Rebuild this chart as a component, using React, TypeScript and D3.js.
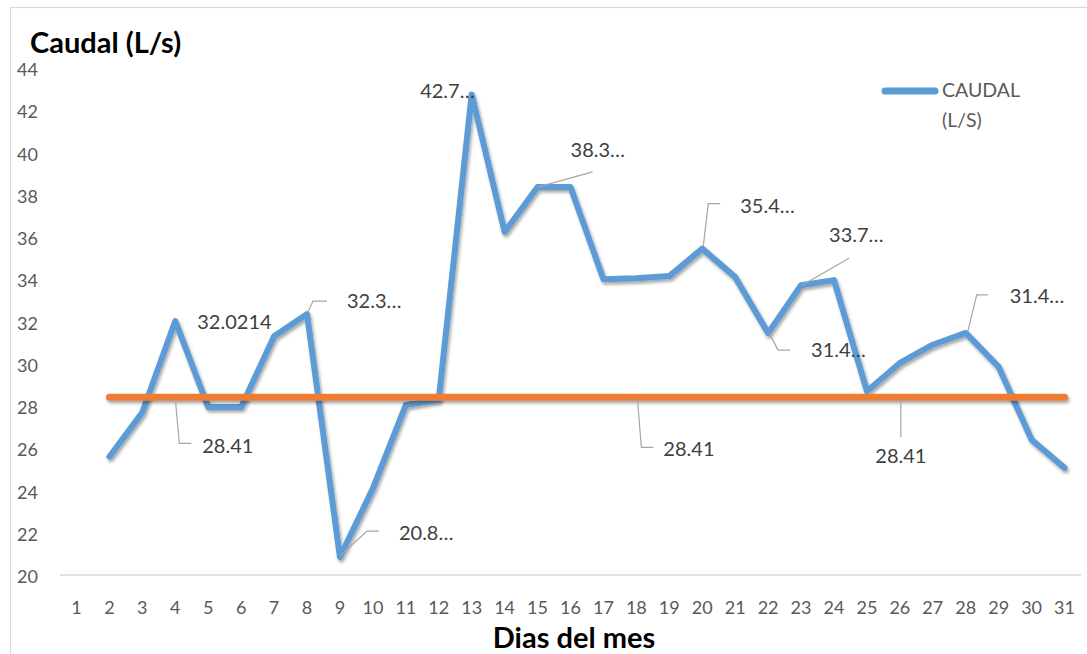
import React from "react";
import * as d3 from "d3";

// Daily flow readings for the month (day 1 has no reading)
const days: number[] = [
  1, 2, 3, 4, 5, 6, 7, 8, 9, 10, 11, 12, 13, 14, 15, 16,
  17, 18, 19, 20, 21, 22, 23, 24, 25, 26, 27, 28, 29, 30, 31,
];
const caudal: (number | null)[] = [
  null, 25.6, 27.7, 32.0214, 27.95, 27.95, 31.3, 32.35, 20.85, 24.1, 28.05,
  28.3, 42.75, 36.24, 38.37, 38.37, 34.0, 34.05, 34.15, 35.45, 34.1, 31.45,
  33.72, 33.96, 28.7, 30.04, 30.9, 31.46, 29.85, 26.4, 25.07,
];
// Reference (mean) flow, drawn from day 2 to day 31
const promedio = 28.41;
const promedioDays: number[] = [2, 31];
const yTicks: number[] = [20, 22, 24, 26, 28, 30, 32, 34, 36, 38, 40, 42, 44];
const legendLines: string[] = ["CAUDAL", "(L/S)"];

// Which points carry a data label
const caudalLabelDays: number[] = [4, 8, 9, 13, 15, 20, 22, 23, 28];
const promedioLabelDays: number[] = [4, 18, 26];

// Label placement relative to its point: text offset, anchor, leader path,
// and whether the value fits without being cut short
type Placement = {
  tx: number;
  ty: number;
  anchor?: "start" | "end" | "middle";
  leader?: [number, number][];
  full?: boolean;
};
const caudalPlacement: Record<number, Placement> = {
  4: { tx: 22, ty: 8, full: true },
  8: { tx: 40, ty: -6, leader: [[1, -2], [6, -13], [20, -13]] },
  9: { tx: 59, ty: -17, leader: [[0, -1], [27, -26], [39, -26]] },
  13: { tx: 3, ty: 4, anchor: "end" },
  15: { tx: 33, ty: -30, leader: [[1, 0], [55, -15]] },
  20: { tx: 38, ty: -36, leader: [[1, -2], [6, -45], [18, -45]] },
  22: { tx: 43, ty: 24, leader: [[1, 0], [10, 17], [22, 17]] },
  23: { tx: 28, ty: -43, leader: [[1, 0], [48, -27]] },
  28: { tx: 44, ty: -30, leader: [[2, -1], [11, -38], [22, -38]] },
};
const promedioPlacement: Record<number, Placement> = {
  4: { tx: 27, ty: 56, full: true, leader: [[0, 1], [4, 46], [16, 46]] },
  18: { tx: 27, ty: 59, full: true, leader: [[1, 1], [5, 50], [17, 50]] },
  26: { tx: 1, ty: 66, full: true, anchor: "middle", leader: [[1, 1], [1, 40]] },
};

const W = 1087;
const H = 654;
const FONT = "Lato, 'Open Sans', sans-serif";
const BLUE = "#5B9BD5";
const ORANGE = "#ED7D31";

// Labels that do not fit keep their first characters and an ellipsis
function labelText(v: number, full?: boolean): string {
  const s = String(v);
  return full ? s : s.slice(0, 4) + "…";
}

export default function App() {
  const x = d3
    .scaleBand<number>()
    .domain(days)
    .range([60, 1081])
    .paddingInner(0)
    .paddingOuter(0);
  const cx = (d: number) => (x(d) as number) + x.bandwidth() / 2;
  const y = d3.scaleLinear().domain([20, 44]).range([575, 68]);

  const series = days.map((d, i) => ({ day: d, v: caudal[i] }));
  const line = d3
    .line<{ day: number; v: number | null }>()
    .defined((p) => p.v != null)
    .x((p) => cx(p.day))
    .y((p) => y(p.v as number));

  const avgLine = d3
    .line<number>()
    .x((d) => cx(d))
    .y(() => y(promedio));

  const leaderPath = (px: number, py: number, pts: [number, number][]) =>
    d3.line()(pts.map(([dx, dy]) => [px + dx, py + dy]));

  const renderLabel = (
    key: string,
    px: number,
    py: number,
    v: number,
    p: Placement
  ) => (
    <g key={key}>
      {p.leader && (
        <path
          d={leaderPath(px, py, p.leader) || ""}
          fill="none"
          stroke="#A6A6A6"
          strokeWidth={1.2}
        />
      )}
      <text
        x={px + p.tx}
        y={py + p.ty}
        textAnchor={p.anchor || "start"}
        fontSize={20}
        fill="#404040"
      >
        {labelText(v, p.full)}
      </text>
    </g>
  );

  return (
    <svg
      width={W}
      height={H}
      style={{ position: "fixed", left: 0, top: 0, background: "#fff" }}
      fontFamily={FONT}
    >
      <defs>
        <filter
          id="shadow"
          filterUnits="userSpaceOnUse"
          x={0}
          y={0}
          width={W}
          height={H}
        >
          <feDropShadow
            dx={1.5}
            dy={2.5}
            stdDeviation={1.6}
            floodColor="#000"
            floodOpacity={0.35}
          />
        </filter>
      </defs>
      <rect width={W} height={H} fill="#fff" />
      {/* chart frame */}
      <rect
        x={10.5}
        y={7.5}
        width={1200}
        height={1000}
        fill="none"
        stroke="#D9D9D9"
        strokeWidth={1.2}
      />

      {/* titles */}
      <text x={30} y={53} fontSize={29} fontWeight={700} fill="#000">
        Caudal (L/s)
      </text>
      <text
        x={574}
        y={648}
        fontSize={29}
        fontWeight={700}
        fill="#000"
        textAnchor="middle"
      >
        Dias del mes
      </text>

      {/* y axis labels */}
      {yTicks.map((t) => (
        <text
          key={t}
          x={38}
          y={y(t) + 1}
          textAnchor="end"
          dominantBaseline="central"
          fontSize={18}
          fill="#595959"
        >
          {t}
        </text>
      ))}

      {/* category axis */}
      <line
        x1={60}
        x2={1081}
        y1={575}
        y2={575}
        stroke="#D9D9D9"
        strokeWidth={1.5}
      />
      {days.map((d) => (
        <text
          key={d}
          x={cx(d)}
          y={614}
          textAnchor="middle"
          fontSize={18}
          fill="#595959"
        >
          {d}
        </text>
      ))}

      {/* series */}
      <path
        d={line(series) || ""}
        fill="none"
        stroke={BLUE}
        strokeWidth={6}
        strokeLinejoin="round"
        strokeLinecap="round"
        filter="url(#shadow)"
      />
      <path
        d={avgLine(promedioDays) || ""}
        fill="none"
        stroke={ORANGE}
        strokeWidth={7}
        strokeLinecap="round"
        filter="url(#shadow)"
      />

      {/* data labels */}
      {caudalLabelDays.map((d) => {
        const v = caudal[days.indexOf(d)] as number;
        return renderLabel("c" + d, cx(d), y(v), v, caudalPlacement[d]);
      })}
      {promedioLabelDays.map((d) =>
        renderLabel("p" + d, cx(d), y(promedio), promedio, promedioPlacement[d])
      )}

      {/* legend */}
      <line
        x1={885}
        x2={935}
        y1={91}
        y2={91}
        stroke={BLUE}
        strokeWidth={7}
        strokeLinecap="round"
      />
      {legendLines.map((t, i) => (
        <text key={t} x={942} y={97 + i * 30} fontSize={19.5} fill="#595959">
          {t}
        </text>
      ))}
    </svg>
  );
}
